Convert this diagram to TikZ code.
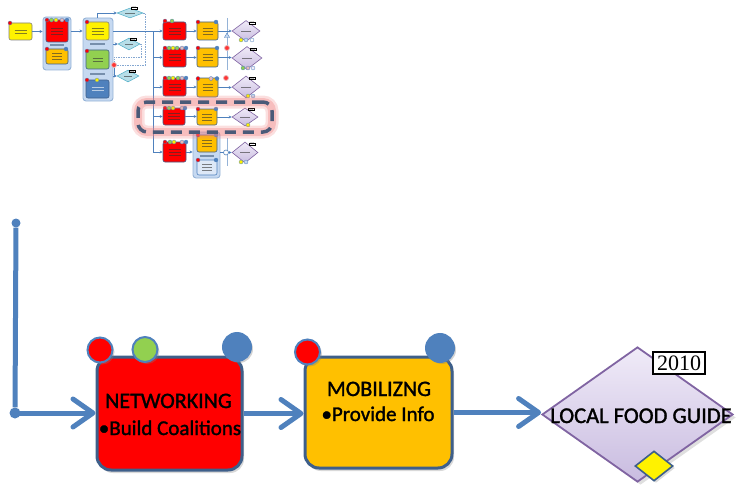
\documentclass[tikz,border=0pt]{standalone}
\usepackage{fontspec}
\setmainfont{Carlito}[FakeBold=1.2]
\newfontfamily\labelfont{Carlito}[AutoFakeBold=1.4]
\newfontfamily\yearfont{Liberation Serif}
\usetikzlibrary{arrows.meta,shapes.geometric,shadows,calc}

\definecolor{flow}{HTML}{4F81BD}
\definecolor{edge}{HTML}{3E5F8A}
\definecolor{orangefill}{HTML}{FFC000}
\definecolor{greenfill}{HTML}{92D050}
\definecolor{pinkdot}{HTML}{E6B9B8}
\definecolor{lavtop}{HTML}{F0EBF8}
\definecolor{lavbot}{HTML}{C9BCE0}
\definecolor{lavedge}{HTML}{8064A2}
\definecolor{paneblue}{HTML}{C6D9F1}
\definecolor{paneedge}{HTML}{95B3D7}
\definecolor{cyanfill}{HTML}{B7DEE8}
\definecolor{cyanedge}{HTML}{4BACC6}
\definecolor{hilite}{HTML}{4A5A78}
\definecolor{glow}{HTML}{F08080}

\tikzset{
  sz/.style 2 args={minimum width=#1pt, minimum height=#2pt},
  % large detail view
  procbox/.style={draw=edge, line width=3pt, rounded corners=14pt, inner sep=0pt,
    drop shadow={opacity=0.3, shadow xshift=2pt, shadow yshift=-3pt}},
  bigdot/.style={circle, inner sep=0pt, minimum size=#1, draw=flow, line width=2pt,
    drop shadow={opacity=0.35, shadow xshift=2pt, shadow yshift=-2pt}},
  feeddot/.style={circle, inner sep=0pt, fill=flow},
  bigline/.style={draw=flow, line width=5pt},
  bigarrow/.style={bigline, -{Straight Barb[length=20pt,width=28pt,round]}},
  bigtext/.style={font=\labelfont\bfseries\fontsize{22}{26}\selectfont, anchor=base, inner sep=0pt},
  itemtext/.style={font=\labelfont\bfseries\fontsize{21}{25}\selectfont, anchor=base, inner sep=0pt},
  guide/.style={diamond, inner sep=0pt, draw=lavedge, line width=1.8pt,
    top color=lavtop, bottom color=lavbot,
    drop shadow={opacity=0.25, shadow xshift=3pt, shadow yshift=-3pt}},
  yearbox/.style={draw=black, line width=1.4pt, fill=white, inner sep=0pt,
    minimum width=52pt, minimum height=22pt, font=\yearfont\fontsize{22}{22}\selectfont},
  gem/.style={diamond, inner sep=0pt, fill=yellow, draw=edge, line width=1.6pt,
    drop shadow={opacity=0.3, shadow xshift=2pt, shadow yshift=-2pt}},
  % overview chart
  tnode/.style={draw=edge, line width=0.6pt, rounded corners=2pt, inner sep=0pt},
  tred/.style={tnode, fill=red},
  torange/.style={tnode, fill=orangefill},
  tyellow/.style={tnode, fill=yellow, draw=gray},
  tgreen/.style={tnode, fill=greenfill},
  tblue/.style={tnode, fill=flow},
  tlight/.style={tnode, fill=paneblue!60, draw=flow},
  tpane/.style={draw=paneedge, fill=paneblue, rounded corners=3pt, line width=0.9pt, inner sep=0pt},
  tbar/.style={fill=paneedge!80!black, inner sep=0pt},
  tcyan/.style={diamond, inner sep=0pt, draw=cyanedge, fill=cyanfill, line width=0.5pt},
  tlav/.style={diamond, inner sep=0pt, draw=lavedge, line width=0.6pt, top color=lavtop, bottom color=lavbot},
  tyear/.style={draw=black, line width=0.3pt, fill=white, inner sep=0.3pt,
    font=\yearfont\fontsize{2.4}{2.4}\selectfont},
  tdot/.style={circle, inner sep=0pt, minimum size=4pt, draw=flow, line width=0.3pt},
  tmark/.style={circle, inner sep=0pt, minimum size=5pt, fill=red!80, draw=pinkdot, line width=0.8pt},
  tring/.style={circle, inner sep=0pt, minimum size=5pt, fill=white, draw=flow, line width=0.6pt},
  ttri/.style={regular polygon, regular polygon sides=3, inner sep=0pt, minimum size=6pt,
    fill=paneblue, draw=flow, line width=0.4pt},
  tline/.style={draw=flow, line width=0.9pt},
  tarrow/.style={tline, -{Stealth[length=3pt,width=3pt]}},
  tdash/.style={draw=flow!70, line width=0.6pt, dash pattern=on 1.5pt off 1pt},
  tsep/.style={draw=paneedge, line width=0.5pt},
  ink/.style={line width=0.45pt, opacity=0.6},
  focus/.style={rectangle, inner sep=0pt, rounded corners=9pt, draw=hilite, line width=3.5pt,
    dash pattern=on 11pt off 7pt,
    preaction={draw=glow, line width=13pt, opacity=0.25, solid},
    preaction={draw=glow, line width=8pt, opacity=0.35, solid}},
}

% a row of small status dots on top of a box
\newcommand\dotrow[3]{\foreach \dx/\dc [count=\k] in {#3} \node[tdot, fill=\dc] (#1-\k) at (\dx,#2) {};}
% illegible lines of small print inside a box
\newcommand\inklines[4][black!80]{\foreach \dy in {#4}
  \draw[ink, draw=#1] ($(#2.center)+(-#3,\dy)$) -- ($(#2.center)+(#3,\dy)$);}

\begin{document}
\begin{tikzpicture}[x=1pt, y=-1pt]
\useasboundingbox (0,0) rectangle (736,487);

% ================= overview chart =================
% first stages
\node[tyellow, sz={23}{17}] (ov-a) at (20.5,31.5) {};
\inklines{ov-a}{6}{-1.5,1.5}
\node[tdot, fill=red] (ov-a-dot) at (10,23) {};

\node[tpane, sz={28}{53}] (ov-p1) at (57,43.5) {};
\node[tred, sz={22}{22}] (ov-b) at (57,31) {};
\inklines{ov-b}{6}{-3,0,3}
\node[tbar, sz={14}{2}] (ov-b-bar) at (57,45.5) {};
\node[torange, sz={22}{15}] (ov-c) at (57,56.5) {};
\inklines{ov-c}{5}{-3,0,3}
\dotrow{ov-b-d}{20}{47/red,51.5/greenfill,56/yellow,62/pinkdot,67/flow}
\dotrow{ov-c-d}{49}{47/red,66/flow}

\node[tpane, sz={30}{83}] (ov-p2) at (98,59.5) {};
\node[tyellow, sz={23}{18}] (ov-d) at (97.5,31) {};
\inklines{ov-d}{6}{-3,0,3}
\node[tbar, sz={15}{2}] (ov-d-bar) at (97.5,44.5) {};
\node[tgreen, sz={23}{19}] (ov-e) at (97.5,59.5) {};
\inklines{ov-e}{5}{-1.5,1.5}
\node[tbar, sz={15}{2}] (ov-e-bar) at (97.5,74) {};
\node[tblue, sz={23}{18}] (ov-f) at (97.5,89) {};
\inklines[white]{ov-f}{6}{-1.5,1.5}
\dotrow{ov-d-d}{22}{87/red}
\dotrow{ov-e-d}{51}{87/red}
\dotrow{ov-f-d}{80}{87/red,97/yellow}

% side checks
\node[tcyan, sz={26}{10}] (ov-g1) at (130,13) {};
\node[tyear] (ov-g1-y) at (134,8) {2010};
\node[tcyan, sz={22}{12}] (ov-g2) at (129,44) {};
\node[tyear] (ov-g2-y) at (133,39.5) {2010};
\node[tcyan, sz={22}{12}] (ov-g3) at (128,76) {};
\node[tyear] (ov-g3-y) at (132,71.5) {2010};
\inklines{ov-g1}{5}{0}
\inklines{ov-g2}{4}{0}
\inklines{ov-g3}{4}{0}
\node[tmark] (ov-m0) at (114,65) {};

\draw[tarrow] (ov-a.east) -- (ov-a.east -| ov-p1.west);
\draw[tarrow] (ov-p1.east |- ov-b) -- (ov-p2.west |- ov-b);
\draw[tarrow] (ov-p2.north -| ov-d) |- (ov-g1.west);
\draw[tarrow] (ov-p2.east |- ov-g2) -- (ov-g2.west);
\draw[tarrow] (ov-p2.east |- ov-g3) -- (ov-g3.west);
\draw[tdash] (ov-g1.east) -| ($(ov-m0)+(31,0)$) -- (ov-m0.east);
\draw[tdash] (ov-g2.east) -| ($(ov-m0)+(27,-8)$) -| (ov-m0.north);
\draw[tline] (ov-m0.south) -- (ov-m0 |- ov-g3);

% rows of the programme
\node[tred, sz={23}{18}] (ov-r1) at (174.5,31) {};
\node[torange, sz={21}{18}] (ov-o1) at (207.5,31) {};
\node[tlav, sz={28}{21}] (ov-l1) at (246,31) {};
\node[tred, sz={23}{19}] (ov-r2) at (174.5,57.5) {};
\node[torange, sz={21}{19}] (ov-o2) at (207.5,57.5) {};
\node[tlav, sz={30}{23}] (ov-l2) at (247,58) {};
\node[tred, sz={23}{18}] (ov-r3) at (174.5,87) {};
\node[torange, sz={21}{19}] (ov-o3) at (207.5,87.5) {};
\node[tlav, sz={28}{22}] (ov-l3) at (246,87) {};
\node[tred, sz={22}{17}] (ov-r4) at (174,116.5) {};
\node[torange, sz={20}{16}] (ov-o4) at (207,117) {};
\node[tlav, sz={26}{18}] (ov-l4) at (245,117) {};
\node[tred, sz={23}{20}] (ov-r5) at (174.5,152) {};
\node[tpane, sz={27}{46}] (ov-p3) at (206.5,155) {};
\node[torange, sz={20}{17}] (ov-o5) at (207,143.5) {};
\node[tbar, sz={14}{2}] (ov-o5-bar) at (207,156) {};
\node[tlight, sz={20}{15}] (ov-b5) at (207,167.5) {};
\node[tlav, sz={26}{21}] (ov-l5) at (245,152.5) {};

\foreach \n in {r1,r2,r3,r4,r5} {\inklines{ov-\n}{6}{-3,0,3}}
\foreach \n in {o1,o2,o3,o4,o5,b5} {\inklines{ov-\n}{5}{-3,0,3}}
\foreach \n in {l1,l2,l3,l4,l5} {\inklines{ov-\n}{5}{0}}

\node[tyear] (ov-l1-y) at (252,23) {2010};
\node[tyear] (ov-l2-y) at (253,49.5) {2010};
\node[tyear] (ov-l3-y) at (252,78.5) {2010};
\node[tyear] (ov-l4-y) at (251,109.5) {2010};
\node[tyear] (ov-l5-y) at (252,144) {2010};

\dotrow{ov-r1-d}{21}{165/red,172/greenfill}
\dotrow{ov-o1-d}{22}{198/red,216/flow}
\dotrow{ov-l1-d}{40}{241/yellow,246/paneblue,252/white}
\dotrow{ov-r2-d}{48}{165/red,169/greenfill,173/yellow,177/greenfill,182/pinkdot,186/flow}
\dotrow{ov-o2-d}{48}{198/red,217/flow}
\dotrow{ov-l2-d}{68}{243/greenfill,248/pinkdot,253/lavtop}
\dotrow{ov-r3-d}{78}{165/red,169/greenfill,173/yellow,178/greenfill,182/pinkdot,186/flow}
\dotrow{ov-o3-d}{78.5}{198/red,211/pinkdot,217/flow}
\dotrow{ov-l3-d}{96}{248/yellow,253/paneblue}
\dotrow{ov-r4-d}{108}{165/red,169/greenfill,173/yellow,182/pinkdot,185/flow}
\dotrow{ov-o4-d}{109}{198/red,216/flow}
\dotrow{ov-l4-d}{125}{248/yellow}
\dotrow{ov-r5-d}{142}{165/red,170/greenfill,174/yellow,182/pinkdot,186/flow}
\dotrow{ov-o5-d}{135}{198/red,216/flow}
\dotrow{ov-b5-d}{160}{198/red,216/flow}
\dotrow{ov-l5-d}{162}{241/yellow,246/paneblue}

% spine and branches
\coordinate (ov-spine-top) at (153,31);
\coordinate (ov-spine-bot) at (153,152);
\draw[tline] (ov-p2.east |- ov-d) -- (ov-spine-top) -- (ov-spine-bot);
\draw[tsep] (227,18) -- (227,70);
\draw[tsep] (227,138) -- (227,166);
\foreach \k in {1,2,3,4,5} {\draw[tarrow] (ov-spine-top |- ov-r\k) -- (ov-r\k.west);}
\foreach \k in {1,2,3,4} {
  \draw[tarrow] (ov-r\k.east) -- (ov-r\k.east -| ov-o\k.west);
  \draw[tarrow] (ov-o\k.east) -- (ov-o\k.east -| ov-l\k.west);
}
\draw[tarrow] (ov-r5.east) -- (ov-r5.east -| ov-p3.west);
\draw[tarrow] (ov-p3.east |- ov-l5) -- (ov-l5.west);

\node[ttri] (ov-mk1) at (227,36) {};
\node[tmark] (ov-mk2) at (227,48) {};
\node[tmark] (ov-mk3) at (226,78) {};
\node[tring] (ov-mk5) at (226,152.5) {};

% highlighted row
\node[focus, sz={134}{30}] (ov-focus) at (205,117) {};

% ================= detail of the highlighted row =================
\node[feeddot, minimum size=9pt] (feed-top) at (16,223) {};
\node[feeddot, minimum size=11pt] (feed-turn) at (15,413) {};
\draw[bigline] (feed-top) -- (feed-turn);

\node[procbox, fill=red, sz={145}{113}] (net) at (169.5,413.5) {};
\node[procbox, fill=orangefill, sz={147}{111}] (mob) at (378.5,412.5) {};
\node[guide, sz={191}{135}] (guide) at (637.5,414.5) {};

\draw[bigarrow] (feed-turn.center) -- (feed-turn.center -| net.west);
\draw[bigarrow] (net.east) -- (net.east -| mob.west);
\draw[bigarrow] (mob.east) -- (mob.east -| guide.west);

\node[bigdot=25pt, fill=red] (net-dot-a) at (100,350) {};
\node[bigdot=25pt, fill=greenfill] (net-dot-b) at (145,349.5) {};
\node[bigdot=28pt, fill=flow] (net-dot-c) at (237,347) {};
\node[bigdot=25pt, fill=red] (mob-dot-a) at (307.5,352) {};
\node[bigdot=28pt, fill=flow] (mob-dot-b) at (440,348) {};

\node[bigtext] (net-title) at (168.5,408) {NETWORKING};
\node[itemtext] (net-item) at (170,435) {•Build Coalitions};
\node[bigtext] (mob-title) at (379,396) {MOBILIZNG};
\node[itemtext] (mob-item) at (378,421) {•Provide Info};

\node[bigtext, font=\labelfont\bfseries\fontsize{22.5}{26}\selectfont] (guide-label) at (641,423) {LOCAL FOOD GUIDE};
\node[yearbox] (guide-year) at (679,363) {2010};
\node[gem, sz={38}{30}] (guide-gem) at (654,466) {};
\end{tikzpicture}
\end{document}
